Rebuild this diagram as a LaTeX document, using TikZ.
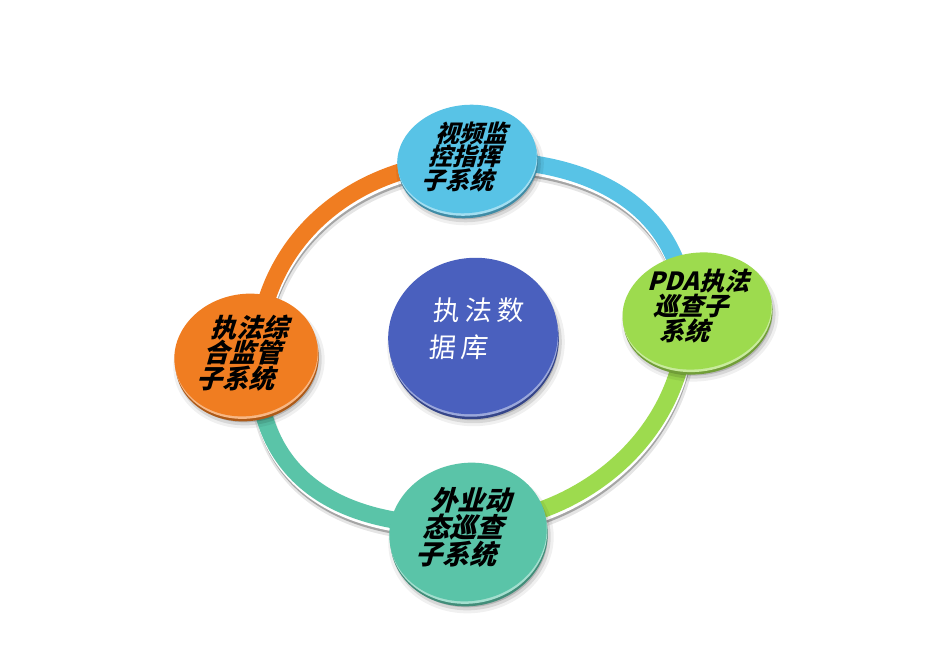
\documentclass[tikz,border=0pt]{standalone}
\usepackage{fontspec}
\newfontfamily\cjk{Noto Sans CJK SC}
\usetikzlibrary{shapes.geometric}
\definecolor{cBlue}{HTML}{58C3E6}
\definecolor{cGreen}{HTML}{9DDB4E}
\definecolor{cTeal}{HTML}{5AC4A8}
\definecolor{cOrange}{HTML}{F07D21}
\definecolor{cCenter}{HTML}{4A60BE}
\tikzset{
  discshape/.style={ellipse, draw=none, inner sep=0pt},
  ringshadowA/.style={line width=20pt, black, opacity=.10, transform canvas={shift={(1.5pt,-7pt)}}},
  ringshadowB/.style={line width=16pt, black, opacity=.28, transform canvas={shift={(1pt,-6pt)}}},
  ringwhite/.style={line width=17pt, white, transform canvas={shift={(0.5pt,-3pt)}}},
  ringband/.style={line width=17pt},
  blacktxt/.style={align=center, inner sep=0pt, text=black, xslant=0.28, transform shape},
}
\newcommand\mydisc[6]{%
  \node[discshape, minimum width=#3+8pt, minimum height=#4+8pt, xshift=3pt, yshift=-8pt, rotate=#5, fill=black, opacity=.06] (#1-sa) at #2 {};
  \node[discshape, minimum width=#3+2pt, minimum height=#4+2pt, xshift=3pt, yshift=-8pt, rotate=#5, fill=black, opacity=.10] (#1-sb) at #2 {};
  \node[discshape, minimum width=#3-4pt, minimum height=#4-4pt, xshift=3pt, yshift=-8pt, rotate=#5, fill=black, opacity=.16] (#1-sc) at #2 {};
  \node[discshape, minimum width=#3, minimum height=#4, xshift=1pt, yshift=-5pt, rotate=#5, fill=#6!72!black] (#1-rim) at #2 {};
  \node[discshape, minimum width=#3, minimum height=#4, xshift=0.5pt, yshift=-2.5pt, rotate=#5, fill=#6!55!white] (#1-hl) at #2 {};
  \node[discshape, minimum width=#3, minimum height=#4, rotate=#5, fill=#6] (#1) at #2 {};
}
\begin{document}
\begin{tikzpicture}[x=1pt,y=-1pt]
\fill[white] (0,0) rectangle (931,660);
\useasboundingbox (0,0) rectangle (931,660);

% ring points
\coordinate (rT) at (480,160);
\coordinate (rR) at (686,318);
\coordinate (rB) at (455,525);
\coordinate (rL) at (257,362);

% ring shadows
\draw[ringshadowA] (rT) .. controls (608,160) and (686,220) .. (rR);
\draw[ringshadowA] (rR) .. controls (686,432) and (582,525) .. (rB);
\draw[ringshadowA] (rB) .. controls (326,525) and (257,468) .. (rL);
\draw[ringshadowA] (rL) .. controls (257,245) and (351,160) .. (rT);
\draw[ringshadowB] (rT) .. controls (608,160) and (686,220) .. (rR);
\draw[ringshadowB] (rR) .. controls (686,432) and (582,525) .. (rB);
\draw[ringshadowB] (rB) .. controls (326,525) and (257,468) .. (rL);
\draw[ringshadowB] (rL) .. controls (257,245) and (351,160) .. (rT);
\draw[ringwhite] (rT) .. controls (608,160) and (686,220) .. (rR);
\draw[ringwhite] (rR) .. controls (686,432) and (582,525) .. (rB);
\draw[ringwhite] (rB) .. controls (326,525) and (257,468) .. (rL);
\draw[ringwhite] (rL) .. controls (257,245) and (351,160) .. (rT);
% ring bands
\draw[ringband, cBlue] (rT) .. controls (608,160) and (686,220) .. (rR);
\draw[ringband, cGreen] (rR) .. controls (686,432) and (582,525) .. (rB);
\draw[ringband, cTeal] (rB) .. controls (326,525) and (257,468) .. (rL);
\draw[ringband, cOrange] (rL) .. controls (257,245) and (351,160) .. (rT);

% discs
\mydisc{dTop}{(467,159)}{140pt}{108pt}{7}{cBlue}
\mydisc{dRight}{(697,311)}{150pt}{116pt}{10}{cGreen}
\mydisc{dBottom}{(468,532)}{158pt}{138pt}{10}{cTeal}
\mydisc{dLeft}{(246,355)}{144pt}{122pt}{10}{cOrange}
\mydisc{dCenter}{(473,336)}{170pt}{156pt}{10}{cCenter}

% texts
\node[blacktxt, font=\cjk\bfseries\fontsize{24}{23.5}\selectfont] (tTop) at (467,157) {视频监\\控指挥\\子系统};
\node[blacktxt, font=\cjk\bfseries\fontsize{25}{25}\selectfont] (tRight) at (694,306) {PDA执法\\巡查子\\系统};
\node[blacktxt, font=\cjk\bfseries\fontsize{27}{27}\selectfont] (tBottom) at (466,527) {外业动\\态巡查\\子系统};
\node[blacktxt, font=\cjk\bfseries\fontsize{26}{25.5}\selectfont] (tLeft) at (245,353) {执法综\\合监管\\子系统};
\node[align=left, inner sep=0pt, text=white, xslant=0.1, transform shape, font=\cjk\fontsize{27}{37}\selectfont] (tCenter) at (477,329) {执\hspace{5pt}法\hspace{5pt}数\\据\hspace{5pt}库};
\end{tikzpicture}
\end{document}
